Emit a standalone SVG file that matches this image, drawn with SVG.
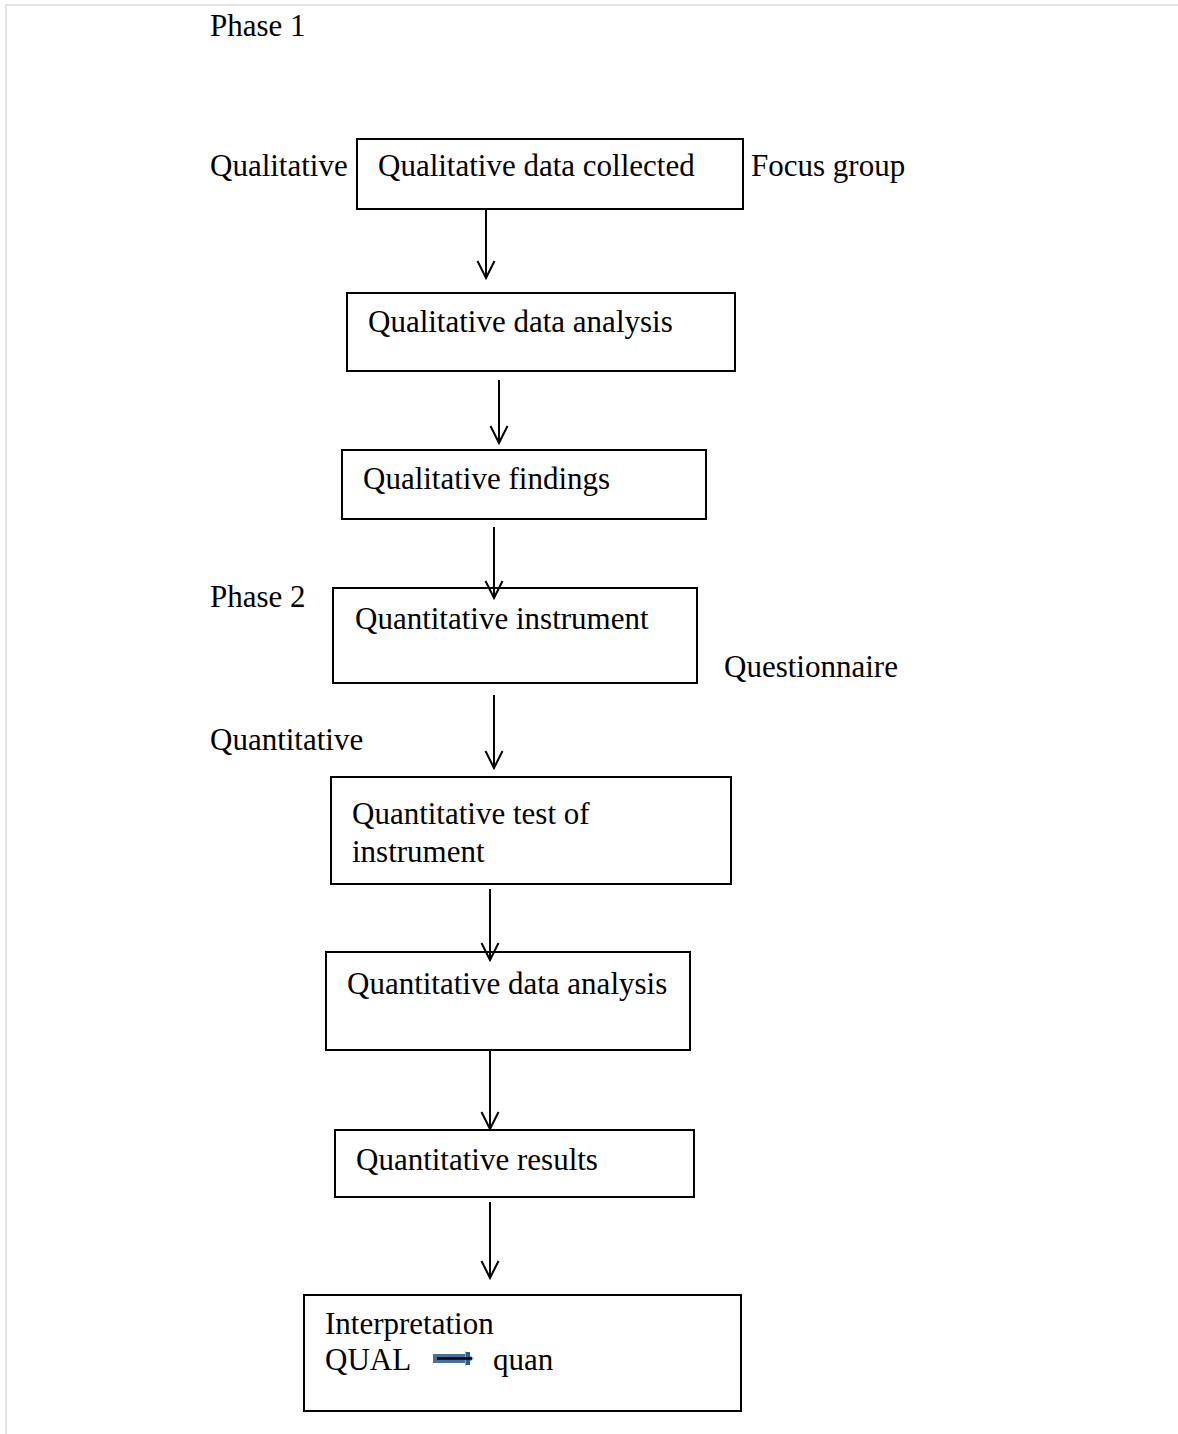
<svg xmlns="http://www.w3.org/2000/svg" width="1178" height="1434" viewBox="0 0 1178 1434">
  <style>
    .box { fill: #ffffff; stroke: #000000; stroke-width: 2; }
    .lbl { font-family: "Liberation Serif", "Times New Roman", serif; font-size: 31px; fill: #000000; }
    .conn { stroke: #000000; stroke-width: 2; fill: none; }
    .frame { stroke: #e3e3e3; stroke-width: 2; fill: none; }
  </style>
  <defs>
    <marker id="vhead" markerUnits="userSpaceOnUse" viewBox="-20 -10 22 20" refX="0" refY="0" markerWidth="22" markerHeight="20" orient="auto" overflow="visible">
      <path d="M -17 -8.5 L 0 0 L -17 8.5" fill="none" stroke="#000000" stroke-width="2"/>
    </marker>
  </defs>

  <rect width="1178" height="1434" fill="#ffffff"/>
  <!-- page frame -->
  <path class="frame" d="M 6 1434 L 6 5 L 1178 5"/>

  <!-- side labels -->
  <g id="side-labels">
    <text class="lbl" x="210" y="36">Phase 1</text>
    <text class="lbl" x="210" y="176">Qualitative</text>
    <text class="lbl" x="751" y="176">Focus group</text>
    <text class="lbl" x="210" y="607">Phase 2</text>
    <text class="lbl" x="724" y="677">Questionnaire</text>
    <text class="lbl" x="210" y="750">Quantitative</text>
  </g>

  <g id="qual-collected">
    <rect class="box" x="357" y="139" width="386" height="70"/>
    <text class="lbl" x="378" y="176">Qualitative data collected</text>
  </g>
  <g id="qual-analysis">
    <rect class="box" x="347" y="293" width="388" height="78"/>
    <text class="lbl" x="368" y="332">Qualitative data analysis</text>
  </g>
  <g id="qual-findings">
    <rect class="box" x="342" y="450" width="364" height="69"/>
    <text class="lbl" x="363" y="489">Qualitative findings</text>
  </g>
  <g id="quan-instrument">
    <rect class="box" x="333" y="588" width="364" height="95"/>
    <text class="lbl" x="355" y="629">Quantitative instrument</text>
  </g>
  <g id="quan-test">
    <rect class="box" x="331" y="777" width="400" height="107"/>
    <text class="lbl" x="352" y="824">Quantitative test of</text>
    <text class="lbl" x="352" y="862">instrument</text>
  </g>
  <g id="quan-analysis">
    <rect class="box" x="326" y="952" width="364" height="98"/>
    <text class="lbl" x="347" y="994">Quantitative data analysis</text>
  </g>
  <g id="quan-results">
    <rect class="box" x="335" y="1130" width="359" height="67"/>
    <text class="lbl" x="356" y="1170">Quantitative results</text>
  </g>
  <g id="interpretation">
    <rect class="box" x="304" y="1295" width="437" height="116"/>
    <text class="lbl" x="325" y="1334">Interpretation</text>
    <text class="lbl" x="325" y="1370">QUAL</text>
    <!-- small block arrow between QUAL and quan -->
    <rect x="433" y="1354" width="34" height="9" fill="#45709f"/>
    <path d="M 465 1351 L 474 1358.5 L 465 1366 Z" fill="#8eaacb"/>
    <rect x="466" y="1352" width="4" height="13" fill="#2f5b8c"/>
    <line x1="437" y1="1358.5" x2="472" y2="1358.5" stroke="#000000" stroke-width="2.5"/>
    <text class="lbl" x="493" y="1370">quan</text>
  </g>

  <g id="connectors">
    <line class="conn" x1="486" y1="208" x2="486" y2="278" marker-end="url(#vhead)"/>
    <line class="conn" x1="499" y1="380" x2="499" y2="443" marker-end="url(#vhead)"/>
    <line class="conn" x1="494" y1="527" x2="494" y2="598" marker-end="url(#vhead)"/>
    <line class="conn" x1="494" y1="695" x2="494" y2="768" marker-end="url(#vhead)"/>
    <line class="conn" x1="490" y1="889" x2="490" y2="960" marker-end="url(#vhead)"/>
    <line class="conn" x1="490" y1="1051" x2="490" y2="1129" marker-end="url(#vhead)"/>
    <line class="conn" x1="490" y1="1202" x2="490" y2="1278" marker-end="url(#vhead)"/>
  </g>
</svg>
